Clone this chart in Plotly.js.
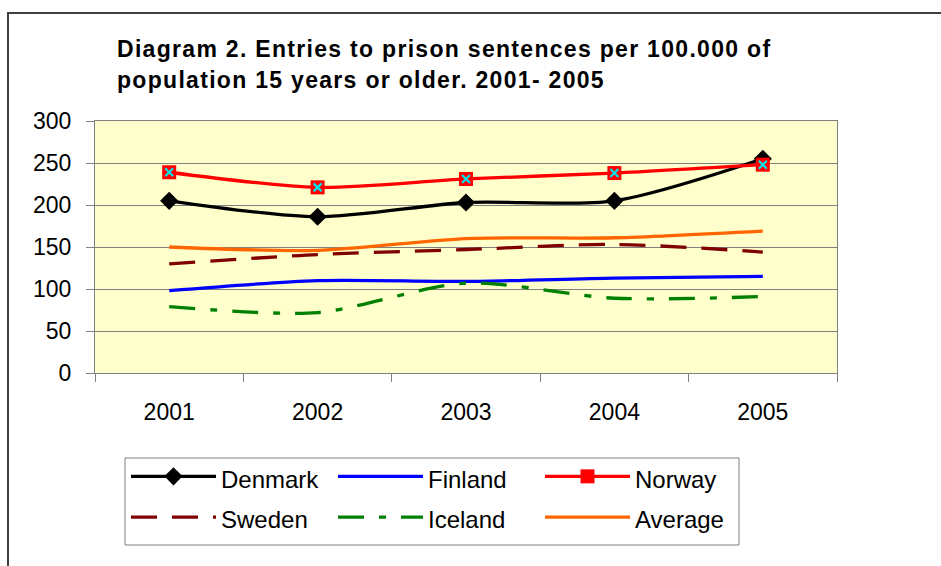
<!DOCTYPE html>
<html>
<head>
<meta charset="utf-8">
<script src="https://cdn.plot.ly/plotly-3.0.1.min.js"></script>
<style>html,body{margin:0;padding:0;background:#fff;}#chart{width:941px;height:566px;}</style>
</head>
<body>
<div id="chart"></div>
<script>
var years = ['2001', '2002', '2003', '2004', '2005'];
var yTicks = [0, 50, 100, 150, 200, 250, 300];
var denmark = [205, 186, 203, 205, 255];
var finland = [98, 110, 109, 113, 115];
var norway = [239, 221, 231, 238, 248];
var sweden = [130, 141, 147, 153, 144];
var iceland = [79, 72, 107, 89, 91];
var average = [150, 146, 160, 161, 169];

var FONT = 'Liberation Sans, Arial, sans-serif';
function nm(s) { return '<span style="font-size:24px">' + s + '</span>'; }
var lw = 3.3;
var traces = [
  {x: years, y: denmark, name: nm('Denmark'), mode: 'lines+markers',
   line: {color: '#000000', width: lw, shape: 'spline', smoothing: 0.8},
   marker: {symbol: 'diamond', size: 14, color: '#000000'}},
  {x: years, y: finland, name: nm('Finland'), mode: 'lines',
   line: {color: '#0000FF', width: lw, shape: 'spline', smoothing: 0.8}},
  {x: years, y: norway, name: nm('Norway'), mode: 'lines+markers', legendgroup: 'no',
   line: {color: '#FF0000', width: lw, shape: 'spline', smoothing: 0.8},
   marker: {symbol: 'square', size: 14, color: '#FF0000'}},
  {x: years, y: sweden, name: nm('Sweden'), mode: 'lines',
   line: {color: '#800000', width: lw, dash: '26px,15px', shape: 'spline', smoothing: 0.8}},
  {x: years, y: iceland, name: nm('Iceland'), mode: 'lines',
   line: {color: '#008000', width: lw, dash: '26px,15px,7px,15px', shape: 'spline', smoothing: 0.8}},
  {x: years, y: average, name: nm('Average'), mode: 'lines',
   line: {color: '#FF6600', width: lw, shape: 'spline', smoothing: 0.8}},
  {x: years, y: norway, name: 'Norway', mode: 'markers', legendgroup: 'no', showlegend: false,
   hoverinfo: 'skip',
   marker: {symbol: 'x-thin', size: 8, color: '#00E5EE', line: {color: '#00E5EE', width: 2.2}}}
];

var layout = {
  width: 941, height: 566,
  margin: {l: 95, r: 104, t: 121, b: 193},
  paper_bgcolor: '#FFFFFF',
  plot_bgcolor: '#FFFFCC',
  font: {family: FONT, color: '#000000'},
  title: {
    text: '<span style="font-size:23px;letter-spacing:1.3px">Diagram 2. Entries to prison sentences per 100.000 of</span><br><span style="font-size:23px;letter-spacing:1.3px">population 15 years or older. 2001- 2005</span>',
    font: {family: FONT, size: 24, weight: 'bold', color: '#000000'},
    xref: 'container', x: 117 / 941, xanchor: 'left',
    yref: 'container', y: 1 - 57 / 566, yanchor: 'top'
  },
  xaxis: {
    type: 'category', range: [-0.5, 4.5],
    tickfont: {size: 23, family: FONT},
    ticks: 'outside', ticklen: 8, tickcolor: '#808080', tickson: 'boundaries',
    ticklabelstandoff: 18,
    showline: true, linecolor: '#808080', linewidth: 1, mirror: true,
    showgrid: false, zeroline: false, fixedrange: true
  },
  yaxis: {
    range: [0, 300], tickvals: yTicks,
    tickfont: {size: 23, family: FONT},
    ticks: 'outside', ticklen: 8, tickcolor: '#808080', ticklabelstandoff: 10,
    showline: true, linecolor: '#808080', linewidth: 1, mirror: true,
    showgrid: true, gridcolor: '#808080', gridwidth: 1, zeroline: false, fixedrange: true
  },
  showlegend: true,
  legend: {
    orientation: 'h', xref: 'paper', yref: 'paper',
    x: (125 - 95) / 742, xanchor: 'left', y: (373 - 450) / 252, yanchor: 'top',
    bgcolor: 'rgba(0,0,0,0)', bordercolor: 'rgba(0,0,0,0)', borderwidth: 1,
    font: {size: 29, family: FONT, color: '#000000'},
    itemwidth: 85, entrywidth: 107, traceorder: 'normal', itemclick: false
  },
  shapes: [
    {type: 'rect', xref: 'paper', yref: 'paper', layer: 'below',
     x0: (8 - 95) / 742, x1: 1.3, y0: -1.2, y1: (373 - 13) / 252,
     line: {color: '#404040', width: 2}, fillcolor: 'rgba(0,0,0,0)'},
    {type: 'rect', xref: 'paper', yref: 'paper', layer: 'above',
     x0: (125 - 95) / 742, x1: (739 - 95) / 742, y0: (373 - 545) / 252, y1: (373 - 458) / 252,
     line: {color: '#808080', width: 1}, fillcolor: 'rgba(0,0,0,0)'}
  ]
};

Plotly.newPlot('chart', traces, layout, {staticPlot: true, displayModeBar: false});
</script>
</body>
</html>
